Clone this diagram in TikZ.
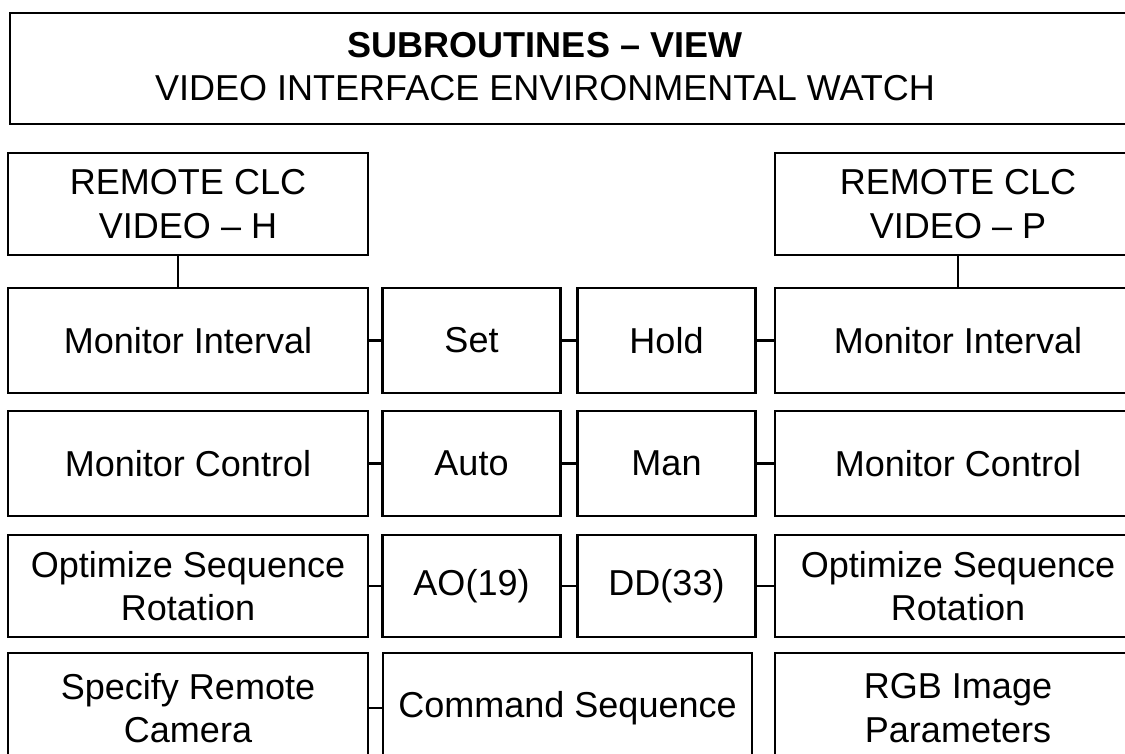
\documentclass[tikz,border=0pt]{standalone}
\usepackage{fontspec}
\setmainfont{Liberation Sans}

\begin{document}
\begin{tikzpicture}[every node/.style={font=\fontsize{20.5}{24.6}\selectfont},
    box/.style={draw,line width=1.6pt,align=center,minimum height=2.1cm},
    wbox/.style={box,minimum width=7.2cm},
    nbox/.style={box,minimum width=3.56cm},
    rbox/.style={box,minimum width=7.32cm},
    link/.style={line width=1.6pt}]

  \clip (0,0) rectangle (22.5,15.06);

  \node[draw,line width=1.6pt,minimum width=22.7cm,minimum height=2.22cm] (hdr) at (11.55,13.69) {};
  \node[align=center] (hdrtxt) at (10.9,13.73)
        {\textbf{SUBROUTINES -- VIEW}\\VIDEO INTERFACE ENVIRONMENTAL WATCH};

  \node[wbox,minimum height=2.04cm] (remH) at ( 3.76,10.98) {REMOTE CLC\\VIDEO -- H};
  \node[rbox,minimum height=2.04cm] (remP) at (19.16,10.98) {REMOTE CLC\\VIDEO -- P};

  \node[wbox] (intL) at ( 3.76,8.25) {Monitor Interval};
  \node[nbox] (set)  at ( 9.43,8.25) {Set};
  \node[nbox] (hold) at (13.33,8.25) {Hold};
  \node[rbox] (intR) at (19.16,8.25) {Monitor Interval};

  \node[wbox] (ctlL) at ( 3.76,5.79) {Monitor Control};
  \node[nbox] (auto) at ( 9.43,5.79) {Auto};
  \node[nbox] (man)  at (13.33,5.79) {Man};
  \node[rbox] (ctlR) at (19.16,5.79) {Monitor Control};

  \node[wbox,minimum height=2.04cm] (optL) at ( 3.76,3.34) {Optimize Sequence\\Rotation};
  \node[nbox,minimum height=2.04cm] (ao)   at ( 9.43,3.34) {AO(19)};
  \node[nbox,minimum height=2.04cm] (dd)   at (13.33,3.34) {DD(33)};
  \node[rbox,minimum height=2.04cm] (optR) at (19.16,3.34) {Optimize Sequence\\Rotation};

  \node[wbox,minimum height=2.2cm] (cam) at ( 3.76,0.9) {Specify Remote\\Camera};
  \node[box,minimum width=7.38cm,minimum height=2.2cm] (cmd) at (11.35,0.9) {Command Sequence};
  \node[rbox,minimum height=2.2cm] (rgb) at (19.16,0.9) {RGB Image\\Parameters};

  \draw[link] ([xshift=-2mm]remH.south) -- ([xshift=-2mm]intL.north);
  \draw[link] (remP) -- (intR);
  \draw[link] (intL) -- (set);
  \draw[link] (set) -- (hold);
  \draw[link] (hold) -- (intR);
  \draw[link] (ctlL) -- (auto);
  \draw[link] (auto) -- (man);
  \draw[link] (man) -- (ctlR);
  \draw[link] (optL) -- (ao);
  \draw[link] (ao) -- (dd);
  \draw[link] (dd) -- (optR);
  \draw[link] (cam) -- (cmd);
\end{tikzpicture}
\end{document}
